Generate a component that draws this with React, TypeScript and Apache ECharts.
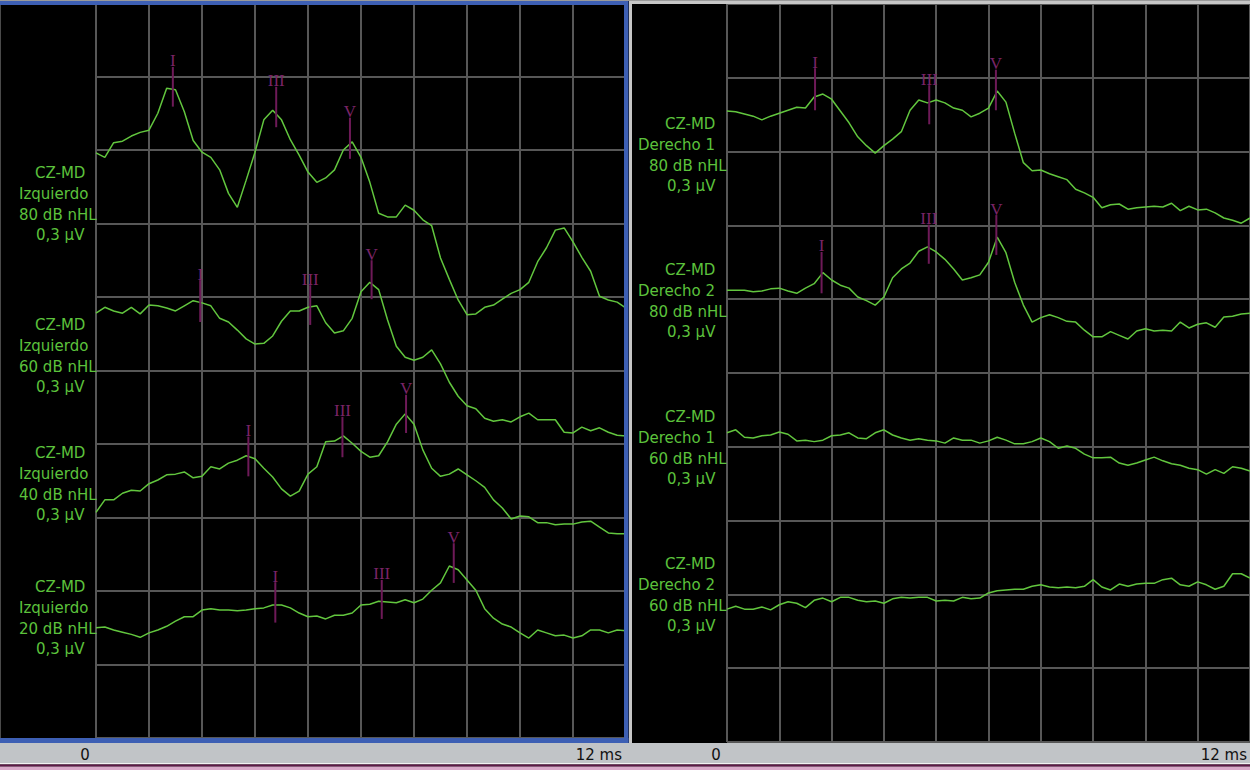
import React, { useEffect, useRef } from "react";
import * as echarts from "echarts";

// sampling grid of the recordings (ms)
const TIMES = Array.from({ length: 61 }, (_, i) => Math.round(i * 2) / 10);

// amplitude in tenths of a grid division (0 = bottom of panel, 100 = top)
const IZQ_80 = [79.6,79.0,81.0,81.2,81.9,82.4,82.7,85.0,88.4,88.2,85.2,81.3,79.7,79.0,77.3,74.1,72.2,75.9,79.7,84.1,85.4,84.1,81.4,79.3,77.0,75.6,76.2,77.3,80.0,81.1,79.0,75.6,71.4,70.9,70.9,72.5,71.8,70.5,69.7,65.3,62.4,59.6,57.6,57.7,58.6,58.9,59.7,60.5,61.0,62.0,64.8,66.7,69.1,69.4,67.5,65.4,63.5,60.1,59.6,59.3,58.5];
const IZQ_60 = [57.8,58.6,58.1,57.8,58.6,57.7,58.9,58.8,58.5,58.1,58.8,59.5,59.2,58.8,57.1,56.6,55.5,54.3,53.6,53.7,54.7,56.7,58.1,58.1,58.6,58.8,56.5,55.1,55.4,57.1,60.7,62.0,61.0,56.9,53.3,51.8,51.4,51.8,52.8,50.9,48.4,46.5,45.2,44.8,43.5,43.1,43.3,43.0,43.7,44.2,43.3,43.3,43.3,41.6,41.5,42.3,41.8,42.2,41.6,41.2,41.1];
const IZQ_40 = [30.7,32.4,32.4,33.3,33.7,33.6,34.6,35.1,35.8,35.9,36.2,35.4,35.6,36.9,36.6,37.4,37.8,38.4,38.0,36.7,35.5,33.9,32.9,33.6,35.9,36.9,40.3,40.4,41.1,40.1,39.0,38.2,38.4,40.3,42.7,44.1,42.7,39.2,36.7,35.6,35.9,36.6,35.8,35.0,34.1,32.4,31.3,29.8,30.2,30.1,29.3,29.3,29.0,29.1,29.1,29.4,29.5,28.7,27.9,27.8,27.8];
const IZQ_20 = [15.0,15.1,14.7,14.4,14.1,13.7,14.3,14.7,15.2,15.9,16.5,16.5,17.4,17.6,17.4,17.4,17.3,17.4,17.6,17.7,18.1,18.1,17.7,17.0,16.5,16.6,16.2,16.7,16.7,17.0,18.1,18.2,18.6,18.5,18.4,18.8,18.4,18.9,20.1,21.1,23.4,22.9,21.5,20.1,17.6,16.3,15.5,15.1,14.3,13.6,14.7,14.3,13.9,14.0,13.6,13.9,14.7,14.7,14.3,14.7,14.6];
const DER1_80 = [85.5,85.4,85.1,84.8,84.3,84.8,85.2,85.6,86.0,85.9,87.4,87.8,87.1,85.5,83.9,82.0,80.8,79.8,80.8,81.7,82.7,85.6,87.0,86.6,87.0,86.6,85.9,85.6,84.7,85.2,85.9,88.2,86.7,82.5,78.5,77.4,77.5,77.0,76.6,76.2,74.9,74.4,73.8,72.4,72.8,72.9,72.2,72.4,72.5,72.6,72.5,73.0,72.0,72.6,72.1,72.2,71.7,71.0,70.7,70.3,71.0];
const DER2_80 = [61.2,61.2,61.2,61.0,61.1,61.4,61.5,61.1,60.8,61.5,62.1,63.6,62.6,61.9,61.5,60.3,59.8,59.2,60.3,62.9,64.1,64.9,66.5,67.1,66.4,65.4,64.1,62.6,62.9,63.3,65.0,68.4,66.3,62.3,59.2,56.9,57.5,57.9,57.5,57.0,56.9,55.8,54.9,54.9,55.6,55.1,54.6,55.7,56.0,55.7,55.8,55.7,56.9,56.1,56.6,56.8,56.2,57.6,57.7,58.0,58.1];
const DER1_60 = [41.9,42.3,41.3,41.2,41.5,41.6,42.0,41.7,40.8,40.9,40.7,40.9,41.5,41.6,41.9,41.2,41.1,41.9,42.3,41.6,41.2,40.9,41.1,40.9,40.8,40.5,41.2,40.9,40.9,40.5,40.8,41.3,40.9,40.4,40.4,40.7,41.2,40.7,39.8,40.1,39.8,39.0,38.5,38.5,38.6,37.8,37.5,37.8,38.2,38.6,38.1,37.7,37.5,37.1,36.9,36.3,36.9,36.4,37.3,37.1,36.7];
const DER2_60 = [18.0,18.4,18.0,18.0,18.3,17.9,18.6,19.0,18.8,18.2,19.2,19.5,19.0,19.6,19.6,19.2,19.0,19.1,18.8,19.4,19.6,19.5,19.6,19.6,19.1,19.2,19.1,19.6,19.4,19.5,20.2,20.5,20.6,20.7,20.7,21.1,21.3,21.0,20.9,21.0,20.9,21.1,22.0,21.0,20.6,21.4,21.1,21.4,21.5,21.5,22.0,22.2,21.3,21.1,21.7,21.3,20.7,21.1,22.8,22.8,22.2];

const LEFT_TRACES = [IZQ_80, IZQ_60, IZQ_40, IZQ_20];
const RIGHT_TRACES = [DER1_80, DER2_80, DER1_60, DER2_60];

const LEFT_LABELS = [
  ["CZ-MD", "Izquierdo", "80 dB nHL", "0,3 µV"],
  ["CZ-MD", "Izquierdo", "60 dB nHL", "0,3 µV"],
  ["CZ-MD", "Izquierdo", "40 dB nHL", "0,3 µV"],
  ["CZ-MD", "Izquierdo", "20 dB nHL", "0,3 µV"],
];
const RIGHT_LABELS = [
  ["CZ-MD", "Derecho 1", "80 dB nHL", "0,3 µV"],
  ["CZ-MD", "Derecho 2", "80 dB nHL", "0,3 µV"],
  ["CZ-MD", "Derecho 1", "60 dB nHL", "0,3 µV"],
  ["CZ-MD", "Derecho 2", "60 dB nHL", "0,3 µV"],
];

// wave markers
const WAVE_NAMES = ["I", "III", "V"];
const LEFT_PEAK_MS = [[1.74, 4.08, 5.75], [2.36, 4.85, 6.24], [3.45, 5.58, 7.02], [4.06, 6.47, 8.1]];
const LEFT_PEAK_TOP = [[91.3, 88.6, 84.4], [62.3, 61.6, 65.0], [41.0, 43.7, 46.7], [21.2, 21.5, 26.5]];
const LEFT_PEAK_BOTTOM = [[85.9, 83.1, 78.8], [56.6, 56.2, 59.7], [35.6, 38.2, 41.5], [15.7, 16.2, 21.1]];
const RIGHT_PEAK_MS = [[2.02, 4.64, 6.17], [2.17, 4.63, 6.18]];
const RIGHT_PEAK_TOP = [[91.3, 89.0, 91.1], [66.4, 70.1, 71.4]];
const RIGHT_PEAK_BOTTOM = [[85.6, 83.7, 85.6], [60.8, 64.8, 66.0]];

const X_TICKS = ["0", "12 ms"];

const TRACE_COLOR = "#62c63e";
const LABEL_COLOR = "#5cc23c";
const MARK_COLOR = "#6e1a58";
const GRID_COLOR = "#575757";
const FONT = '"DejaVu Sans", Verdana, sans-serif';

function buildOption() {
  const axisCommon = {
    axisLine: { show: false },
    axisTick: { show: false },
    axisLabel: { show: false },
    splitLine: { show: true, lineStyle: { color: GRID_COLOR, width: 2 } },
  };
  const xAxis = [0, 1].map((g) => ({ type: "value", gridIndex: g, min: 0, max: 12, interval: 1.2, ...axisCommon }));
  const yAxis = [0, 1].map((g) => ({ type: "value", gridIndex: g, min: 0, max: 100, interval: 10, ...axisCommon }));

  const lineSeries = (traces: number[][], g: number) =>
    traces.map((tr) => ({
      type: "line",
      xAxisIndex: g,
      yAxisIndex: g,
      data: tr.map((v, i) => [TIMES[i], v]),
      showSymbol: false,
      symbol: "none",
      lineStyle: { color: TRACE_COLOR, width: 1.5 },
      z: 3,
    }));

  const markerSeries = (ms: number[][], tops: number[][], bots: number[][], g: number) => {
    const data: number[][] = [];
    ms.forEach((row, r) => row.forEach((t, k) => data.push([t, tops[r][k], bots[r][k], k])));
    return {
      type: "custom",
      xAxisIndex: g,
      yAxisIndex: g,
      z: 5,
      encode: { x: 0, y: [1, 2] },
      data,
      renderItem: (params: any, api: any) => {
        const top = api.coord([api.value(0), api.value(1)]);
        const bot = api.coord([api.value(0), api.value(2)]);
        const name = WAVE_NAMES[api.value(3)];
        return {
          type: "group",
          children: [
            {
              type: "line",
              shape: { x1: top[0], y1: top[1], x2: bot[0], y2: bot[1] },
              style: { stroke: MARK_COLOR, lineWidth: 2 },
            },
            {
              type: "text",
              x: top[0],
              y: top[1] - 6,
              style: {
                text: name,
                fill: "#7a2467",
                font: '17px "Liberation Serif", "DejaVu Serif", serif',
                textAlign: "center",
                textVerticalAlign: "middle",
              },
            },
          ],
        };
      },
    };
  };

  const graphic: any[] = [];
  const lh = 20.8;
  const leftX = [35, 19, 19, 36];
  const rightX = [665, 638, 649, 667];
  const leftFirst = [173, 325, 453, 587];
  const rightFirst = [124, 270, 417, 564];
  LEFT_LABELS.forEach((lines, b) =>
    lines.forEach((txt, j) =>
      graphic.push({
        type: "text",
        x: leftX[j],
        y: leftFirst[b] + j * lh,
        z: 20,
        style: { text: txt, fill: LABEL_COLOR, font: `15px ${FONT}`, textAlign: "left", textVerticalAlign: "middle" },
      })
    )
  );
  RIGHT_LABELS.forEach((lines, b) =>
    lines.forEach((txt, j) =>
      graphic.push({
        type: "text",
        x: rightX[j],
        y: rightFirst[b] + j * lh,
        z: 20,
        style: { text: txt, fill: LABEL_COLOR, font: `15px ${FONT}`, textAlign: "left", textVerticalAlign: "middle" },
      })
    )
  );

  // frame, bottom band
  const rect = (x: number, y: number, w: number, h: number, fill: string) => ({
    type: "rect",
    z: 30,
    shape: { x, y, width: w, height: h },
    style: { fill },
  });
  graphic.push(rect(0, 743, 1250, 20, "#c1c4c7"));
  graphic.push(rect(0, 763, 1250, 1.5, "#f2f2f2"));
  graphic.push(rect(0, 764.5, 1250, 2, "#5e1846"));
  graphic.push(rect(0, 766.5, 1250, 3.5, "#d9a9c9"));
  graphic.push(rect(0, 0, 1250, 1, "#9a9a9a"));
  graphic.push(rect(0, 1, 628, 4, "#3d5fb4"));
  graphic.push(rect(624, 1, 4.5, 742, "#3d5fb4"));
  graphic.push(rect(0, 738, 628.5, 5, "#3d5fb4"));
  graphic.push(rect(0, 5, 1, 733, "#4a4a4a"));
  graphic.push(rect(629, 1, 621, 3, "#c6c6c6"));
  graphic.push(rect(629, 1, 3, 742, "#c6c6c6"));

  const tickFont = `15px ${FONT}`;
  graphic.push({ type: "text", z: 31, x: 85, y: 755, style: { text: X_TICKS[0], fill: "#111", font: tickFont, textAlign: "center", textVerticalAlign: "middle" } });
  graphic.push({ type: "text", z: 31, x: 622, y: 755, style: { text: X_TICKS[1], fill: "#111", font: tickFont, textAlign: "right", textVerticalAlign: "middle" } });
  graphic.push({ type: "text", z: 31, x: 716, y: 755, style: { text: X_TICKS[0], fill: "#111", font: tickFont, textAlign: "center", textVerticalAlign: "middle" } });
  graphic.push({ type: "text", z: 31, x: 1247, y: 755, style: { text: X_TICKS[1], fill: "#111", font: tickFont, textAlign: "right", textVerticalAlign: "middle" } });

  return {
    animation: false,
    backgroundColor: "#000",
    grid: [
      { left: 96, top: 3, width: 530, height: 735 },
      { left: 727, top: 4, width: 523, height: 738 },
    ],
    xAxis,
    yAxis,
    series: [
      ...lineSeries(LEFT_TRACES, 0),
      ...lineSeries(RIGHT_TRACES, 1),
      markerSeries(LEFT_PEAK_MS, LEFT_PEAK_TOP, LEFT_PEAK_BOTTOM, 0),
      markerSeries(RIGHT_PEAK_MS, RIGHT_PEAK_TOP, RIGHT_PEAK_BOTTOM, 1),
    ],
    graphic,
  };
}

export default function App() {
  const ref = useRef<HTMLDivElement>(null);
  useEffect(() => {
    document.body.style.margin = "0";
    const chart = echarts.init(ref.current!, undefined, { renderer: "svg" });
    chart.setOption(buildOption() as any);
    return () => chart.dispose();
  }, []);
  return <div ref={ref} style={{ width: 1250, height: 770, background: "#000" }} />;
}
